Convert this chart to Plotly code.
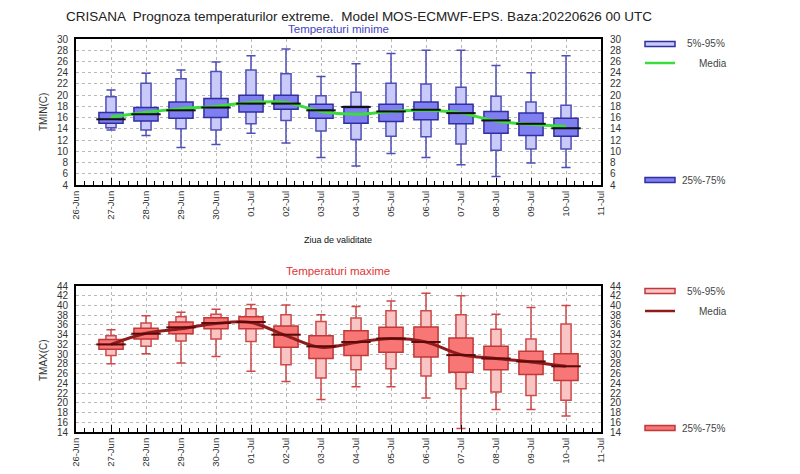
import plotly.graph_objects as go

# zilele de pe axa x (0 = 26-Jun)
day_labels = ["26-Jun", "27-Jun", "28-Jun", "29-Jun", "30-Jun", "01-Jul", "02-Jul", "03-Jul",
              "04-Jul", "05-Jul", "06-Jul", "07-Jul", "08-Jul", "09-Jul", "10-Jul", "11-Jul"]
days = list(range(1, 15))  # 27-Jun .. 10-Jul

# TMIN
tmin_min = [13.8, 12.8, 10.7, 11.2, 13.2, 11.5, 8.9, 7.4, 9.6, 8.9, 7.6, 5.5, 7.9, 7.1]
tmin_p5 = [14.2, 13.8, 14.0, 13.8, 14.9, 15.5, 13.6, 12.1, 12.7, 12.6, 11.3, 10.2, 10.4, 10.4]
tmin_p25 = [15.0, 15.4, 15.9, 16.0, 17.0, 17.5, 15.9, 15.0, 15.3, 15.6, 14.9, 13.2, 12.8, 12.7]
tmin_med = [15.7, 16.6, 17.3, 17.8, 18.5, 18.5, 17.3, 17.9, 17.1, 17.4, 16.8, 15.5, 14.9, 14.1]
tmin_p75 = [16.9, 17.8, 18.8, 19.4, 20.0, 20.0, 18.4, 18.0, 18.4, 18.8, 18.4, 17.1, 16.8, 15.9]
tmin_p95 = [19.7, 22.1, 22.9, 24.2, 24.5, 23.8, 19.9, 20.5, 22.1, 22.0, 21.4, 19.8, 18.8, 18.2]
tmin_max = [20.9, 23.9, 24.5, 25.9, 27.0, 28.2, 23.3, 25.6, 27.4, 28.0, 28.0, 25.3, 24.0, 27.0]
tmin_mean = [16.1, 16.9, 17.6, 18.0, 18.7, 18.7, 17.1, 16.6, 17.1, 17.3, 16.8, 15.4, 14.8, 14.4]

# TMAX
tmax_min = [28.0, 30.1, 28.2, 29.5, 26.5, 24.4, 20.7, 23.3, 23.3, 21.0, 14.7, 18.6, 18.6, 17.3]
tmax_p5 = [29.7, 31.6, 32.7, 33.1, 32.6, 27.8, 25.1, 26.8, 27.0, 25.5, 22.9, 22.2, 21.5, 20.5]
tmax_p25 = [31.0, 33.1, 34.2, 35.2, 35.2, 31.4, 29.1, 29.7, 30.4, 29.4, 26.3, 26.8, 25.8, 24.6]
tmax_med = [32.0, 34.2, 35.5, 36.4, 36.6, 34.0, 31.6, 32.5, 33.2, 32.5, 29.8, 29.1, 28.5, 27.5]
tmax_p75 = [33.0, 35.3, 36.6, 37.5, 37.7, 35.8, 33.8, 34.8, 35.5, 35.6, 33.3, 31.6, 30.6, 30.1]
tmax_p95 = [33.8, 36.4, 37.7, 38.2, 39.3, 38.1, 36.7, 37.4, 38.9, 38.9, 38.1, 35.1, 33.1, 36.2]
tmax_max = [35.0, 37.9, 38.6, 39.2, 40.2, 40.1, 38.1, 39.8, 40.9, 42.5, 42.0, 38.2, 39.6, 40.0]
tmax_mean = [32.0, 34.3, 35.2, 36.3, 36.5, 33.8, 31.4, 32.4, 33.2, 32.5, 29.9, 29.1, 28.4, 27.5]

# pagina are margine de 8px in browser
OFF = 8

fig = go.Figure()


def add_panel(xa, ya, lo, p5, p25, med, p75, p95, hi, mean,
              light, dark, edge, whisk, medc, meanc):
    fig.add_trace(go.Box(x=days, lowerfence=lo, q1=p5, median=med, q3=p95, upperfence=hi,
                         width=0.29, whiskerwidth=0.9, fillcolor=light,
                         line=dict(color=whisk, width=1.5), boxpoints=False,
                         xaxis=xa, yaxis=ya, hoverinfo="skip", showlegend=False))
    fig.add_trace(go.Box(x=days, lowerfence=p25, q1=p25, median=med, q3=p75, upperfence=p75,
                         width=0.69, whiskerwidth=0, fillcolor=dark,
                         line=dict(color=edge, width=1.5), boxpoints=False,
                         xaxis=xa, yaxis=ya, hoverinfo="skip", showlegend=False))
    fig.add_trace(go.Scatter(x=days, y=mean, mode="lines",
                             line=dict(color=meanc, width=3, shape="spline", smoothing=1),
                             xaxis=xa, yaxis=ya, hoverinfo="skip", showlegend=False))
    fig.add_trace(go.Scatter(x=days, y=med, mode="markers",
                             marker=dict(symbol="line-ew", size=21,
                                         line=dict(color=medc, width=2)),
                             xaxis=xa, yaxis=ya, hoverinfo="skip", showlegend=False))


add_panel("x", "y", tmin_min, tmin_p5, tmin_p25, tmin_med, tmin_p75, tmin_p95, tmin_max, tmin_mean,
          "#cacafa", "#7f7ff0", "#2f2fa0", "#4f4fb8", "#111111", "#3ddc3d")
add_panel("x2", "y2", tmax_min, tmax_p5, tmax_p25, tmax_med, tmax_p75, tmax_p95, tmax_max, tmax_mean,
          "#f9c4c4", "#f87676", "#c03838", "#d04848", "#5a0a0a", "#8e1c1c")

tickfont = dict(family="Liberation Sans, Arial", size=10, color="#333333")
xtickfont = dict(family="Liberation Sans, Arial", size=9.5, color="#333333")
xcommon = dict(range=[0, 15], tickmode="array", tickvals=list(range(16)), ticktext=day_labels,
               tickangle=-90, tickfont=xtickfont, ticks="inside", ticklen=7, tickcolor="#000",
               minor=dict(dtick=0.25, ticks="inside", ticklen=4, tickcolor="#000", showgrid=False),
               showgrid=True, gridcolor="#b8b8b8", griddash="dot", gridwidth=1,
               showline=True, linecolor="#000", linewidth=2, mirror=True, zeroline=False,
               automargin=False)
ycommon = dict(tickfont=tickfont, showgrid=True, gridcolor="#b8b8b8", griddash="dot",
               gridwidth=1, showline=True, linecolor="#000", linewidth=2, mirror=True,
               zeroline=False, ticks="outside", ticklen=4, tickcolor="rgba(0,0,0,0)",
               dtick=2, tick0=0, automargin=False)
yright = dict(side="right", dtick=2, tick0=0, tickfont=tickfont, showgrid=False,
              zeroline=False, showline=False, ticks="outside", ticklen=6,
              tickcolor="rgba(0,0,0,0)", automargin=False)


def px_x(v):
    return (v - OFF) / 800


def px_y(v):
    return 1 - (v - OFF) / 474


dom_x = [px_x(76), px_x(601)]
dom_top = [px_y(185), px_y(39)]
dom_bot = [px_y(432), px_y(286)]

fig.update_layout(
    width=800, height=474, margin=dict(l=0, r=0, t=0, b=0),
    paper_bgcolor="white", plot_bgcolor="white", boxmode="overlay", showlegend=False,
    font=dict(family="Liberation Sans, Arial", color="#222"),
    xaxis=dict(domain=dom_x, anchor="y", **xcommon),
    yaxis=dict(domain=dom_top, anchor="x", range=[4, 30], **ycommon),
    xaxis2=dict(domain=dom_x, anchor="y2", **xcommon),
    yaxis2=dict(domain=dom_bot, anchor="x2", range=[14, 44], **ycommon),
    yaxis3=dict(overlaying="y", anchor="x", range=[4, 30], **yright),
    yaxis4=dict(overlaying="y2", anchor="x2", range=[14, 44], **yright),
)

# axe dreapta: urme invizibile ca sa fie desenate
fig.add_trace(go.Scatter(x=[days[0]], y=[tmin_mean[0]], mode="markers", opacity=0,
                         xaxis="x", yaxis="y3", hoverinfo="skip", showlegend=False))
fig.add_trace(go.Scatter(x=[days[0]], y=[tmax_mean[0]], mode="markers", opacity=0,
                         xaxis="x2", yaxis="y4", hoverinfo="skip", showlegend=False))

ann = [
    dict(text="CRISANA  Prognoza temperaturilor extreme.  Model MOS-ECMWF-EPS. Baza:20220626 00 UTC",
         x=px_x(64), y=px_y(16), xanchor="left", yanchor="middle", height=16,
         font=dict(size=13.5, color="#222")),
    dict(text="Temperaturi minime", x=px_x(338), y=px_y(28.5), xanchor="center", yanchor="middle",
         height=13, font=dict(size=11.5, color="#4444c4")),
    dict(text="Temperaturi maxime", x=px_x(338), y=px_y(271), xanchor="center", yanchor="middle",
         font=dict(size=11.5, color="#e03535")),
    dict(text="Ziua de validitate", x=px_x(338), y=px_y(240), xanchor="center", yanchor="middle",
         font=dict(size=9, color="#111")),
    dict(text="TMIN(C)", x=px_x(43), y=px_y(112), textangle=-90, xanchor="center",
         yanchor="middle", font=dict(size=10, color="#333")),
    dict(text="TMAX(C)", x=px_x(43), y=px_y(360), textangle=-90, xanchor="center",
         yanchor="middle", font=dict(size=10, color="#333")),
]

shapes = []
legends = [
    (44, 63, 180, "#cacafa", "#7f7ff0", "#2f2fa0", "#3ddc3d"),
    (291, 311, 428, "#f9c4c4", "#f87676", "#c03838", "#8e1c1c"),
]
for y1, y2, y3, light, dark, edge, meanc in legends:
    shapes.append(dict(type="rect", xref="paper", yref="paper", x0=px_x(645), x1=px_x(675),
                       y0=px_y(y1 + 2.5), y1=px_y(y1 - 2.5), fillcolor=light,
                       line=dict(color=edge, width=1.5)))
    shapes.append(dict(type="line", xref="paper", yref="paper", x0=px_x(645), x1=px_x(675),
                       y0=px_y(y2), y1=px_y(y2), line=dict(color=meanc, width=2.5)))
    shapes.append(dict(type="rect", xref="paper", yref="paper", x0=px_x(645), x1=px_x(675),
                       y0=px_y(y3 + 2.5), y1=px_y(y3 - 2.5), fillcolor=dark,
                       line=dict(color=edge, width=1.5)))
    ann.append(dict(text="5%-95%", x=px_x(685), y=px_y(y1), xanchor="left", yanchor="middle",
                    font=dict(size=10, color="#444")))
    ann.append(dict(text="Media", x=px_x(697), y=px_y(y2), xanchor="left", yanchor="middle",
                    font=dict(size=10, color="#444")))
    ann.append(dict(text="25%-75%", x=px_x(680), y=px_y(y3), xanchor="left", yanchor="middle",
                    font=dict(size=10, color="#444")))

for a in ann:
    a.update(xref="paper", yref="paper", showarrow=False)
fig.update_layout(annotations=ann, shapes=shapes)

fig.write_html("out.html")
